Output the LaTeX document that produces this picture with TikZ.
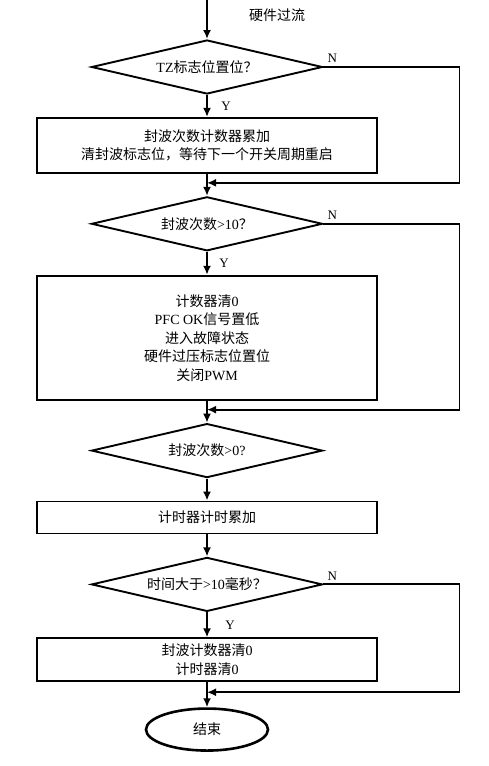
\documentclass[tikz,border=0pt]{standalone}
\usepackage{fontspec}
\setmainfont{Liberation Serif}
\newfontfamily\cjk{Noto Sans CJK SC}
\newcommand\zh[1]{{\cjk #1}}
\usetikzlibrary{shapes.geometric, positioning, arrows.meta}

\begin{document}
\begin{tikzpicture}[x=1pt, y=1pt, line width=1.9pt, >={Latex[length=9pt, width=8pt]},
	font=\fontsize{14}{18.5}\selectfont,
	test/.style={diamond, draw, aspect=4.3, inner sep=0pt, minimum width=231pt, minimum height=54pt},
	proc/.style={rectangle, draw, align=center, minimum width=340pt},
	term/.style={ellipse, draw, line width=2.6pt, minimum width=122pt, minimum height=42pt},
	lbl/.style={font=\fontsize{13}{15}\selectfont}]

			\useasboundingbox (0,0) rectangle (489,-766);

			\coordinate (in) at (207,0);
			\node (hw) at (277,-15) {\zh{硬件过流}};
			\node[test] (tz) at (207,-67) {TZ\zh{标志位置位？}};
			\node[proc, minimum height=55pt, below=22pt of tz] (cnt) {\zh{封波次数计数器累加}\\\zh{清封波标志位，等待下一个开关周期重启}};
			\node[test, below=22pt of cnt] (over) {\zh{封波次数}>10\zh{？}};
			\node[proc, minimum height=124pt, below=23pt of over] (fault) {\zh{计数器清}0\\PFC OK\zh{信号置低}\\\zh{进入故障状态}\\\zh{硬件过压标志位置位}\\\zh{关闭}PWM};
			\node[test, below=22pt of fault] (gtzero) {\zh{封波次数}>0?};
			\node[proc, minimum height=32pt, below=22pt of gtzero] (timer) {\zh{计时器计时累加}};
			\node[test, below=22pt of timer] (tmout) {\zh{时间大于}>10\zh{毫秒？}};
			\node[proc, minimum height=43pt, below=25pt of tmout] (clr) {\zh{封波计数器清}0\\\zh{计时器清}0};
			\node[term, below=25pt of clr] (stop) {\zh{结束}};

			\coordinate[below=9pt of cnt] (j1);
			\coordinate[below=9pt of fault] (j2);
			\coordinate[below=10pt of clr] (j3);

			\draw[->] (in) -- (tz);
			\draw[->] (tz) -- node[lbl, right=10pt] {Y} (cnt);
			\draw (cnt) -- (j1);
			\draw[->] (j1) -- (over);
			\draw[->] (tz.east) node[lbl, above right] {N} -- ++(136,0) |- (j1);

			\draw[->] (over) -- node[lbl, right=8pt] {Y} (fault);
			\draw (fault) -- (j2);
			\draw[->] (j2) -- (gtzero);
			\draw[->] (over.east) node[lbl, above right] {N} -- ++(136,0) |- (j2);

			\draw[->] (gtzero) -- (timer);
			\draw[->] (timer) -- (tmout);
			\draw[->] (tmout) -- node[lbl, right=14pt] {Y} (clr);
			\draw (clr) -- (j3);
			\draw[->] (j3) -- (stop);
			\draw[->] (tmout.east) node[lbl, above right] {N} -- ++(136,0) |- (j3);

			\end{tikzpicture}
\end{document}
